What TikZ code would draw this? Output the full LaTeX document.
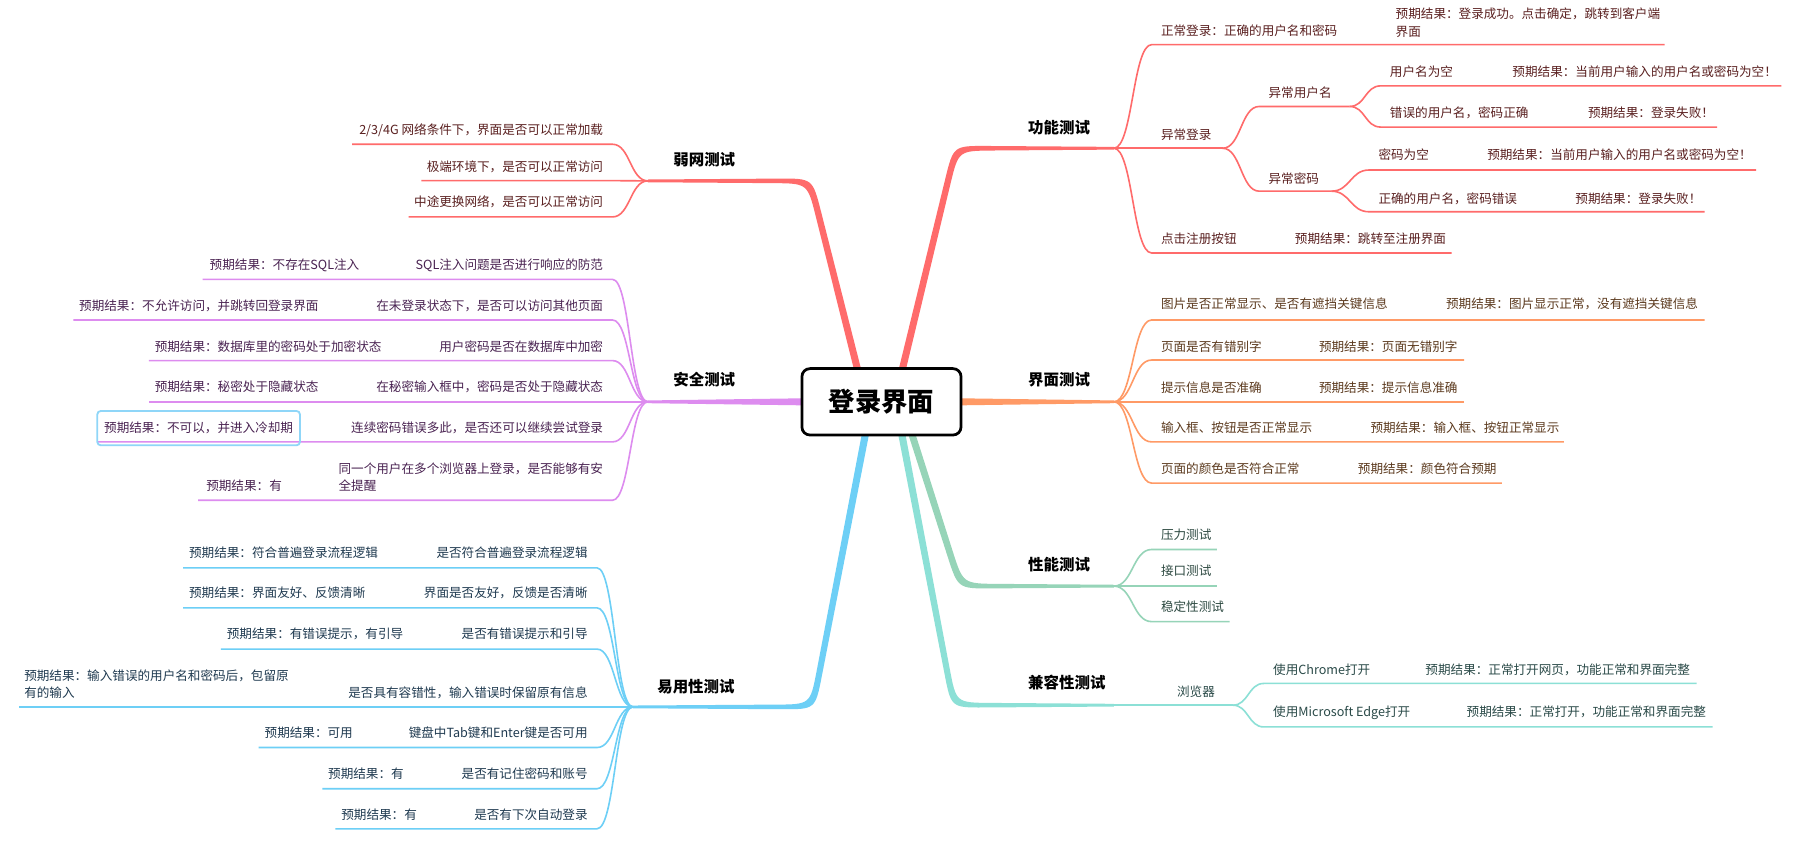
\documentclass[tikz,border=0pt]{standalone}
\usepackage{fontspec}
\setmainfont{Noto Sans CJK SC}
\usetikzlibrary{calc}
\definecolor{fn}{HTML}{FF6B6B}\definecolor{fntxt}{HTML}{5A2020}
\definecolor{ui}{HTML}{FF9A66}\definecolor{uitxt}{HTML}{5C3A1E}
\definecolor{pf}{HTML}{96D4B8}\definecolor{pftxt}{HTML}{2E4A42}
\definecolor{cp}{HTML}{8CE0D6}\definecolor{cptxt}{HTML}{2A4A48}
\definecolor{sc}{HTML}{DD8CEF}\definecolor{sctxt}{HTML}{4A2352}
\definecolor{us}{HTML}{6DCFF6}\definecolor{ustxt}{HTML}{1F3A50}
\definecolor{hl}{HTML}{8FD6F8}
\tikzset{
 kid/.style={inner sep=0pt, font=\fontsize{11}{15}\selectfont, text height=9.4pt, text depth=1.6pt},
 kidml/.style={inner sep=0pt, font=\fontsize{11}{15}\selectfont, align=left},
 sub/.style={line width=1.4pt},
 mainlabel/.style={inner sep=0pt, anchor=west, text=black, font=\fontsize{13.5}{16}\selectfont\bfseries, text height=11.5pt, text depth=2pt},
}
% tapered main branch: #1 color, #2 root pt, #3 corner, #4 end, #5 side sign, #6 prefix
\newcommand{\mbranch}[6]{%
  \pgfmathsetmacro\myKp{2.2*(#5)}\pgfmathsetmacro\myKn{-2.2*(#5)}%
  \pgfmathsetmacro\myEp{1.2*(#5)}\pgfmathsetmacro\myEn{-1.2*(#5)}%
  \coordinate (#6aR) at ($(#2)+(3.2,0)$);
  \coordinate (#6aK) at ($(#3)+(2.2,\myKp)$);
  \coordinate (#6aE) at ($(#4)+(0,\myEp)$);
  \coordinate (#6bR) at ($(#2)+(-3.2,0)$);
  \coordinate (#6bK) at ($(#3)+(-2.2,\myKn)$);
  \coordinate (#6bE) at ($(#4)+(0,\myEn)$);
  \fill[#1] (#6aR) -- ($(#6aK)!30pt!(#6aR)$) .. controls (#6aK) .. ($(#6aK)!30pt!(#6aE)$) -- (#6aE)
     -- (#6bE) -- ($(#6bK)!30pt!(#6bE)$) .. controls (#6bK) .. ($(#6bK)!30pt!(#6bR)$) -- (#6bR) -- cycle;
}
% right child: #1 fork, #2 name, #3 text x, #4 text y, #5 line y, #6 line end, #7 colour, #8 text
\newcommand{\Rkid}[8]{%
  \node[kid, text=#7txt, anchor=west] (#2) at (#3,#4) {#8};
  \coordinate (#2s) at ({#3-8},#5);
  \coordinate (#2e) at (#6,#5);
  \coordinate (#2m) at ($(#1)!0.5!(#2s)$);
  \draw[sub, draw=#7] (#1) .. controls (#2m |- #1) and (#2m |- #2s) .. (#2s) -- (#2e);
}
\newcommand{\Lkid}[8]{%
  \node[kid, text=#7txt, anchor=east] (#2) at (#3,#4) {#8};
  \coordinate (#2s) at ({#3+8},#5);
  \coordinate (#2e) at (#6,#5);
  \coordinate (#2m) at ($(#1)!0.5!(#2s)$);
  \draw[sub, draw=#7] (#1) .. controls (#2m |- #1) and (#2m |- #2s) .. (#2s) -- (#2e);
}
\newcommand{\Res}[5]{\node[kid, text=#4txt, anchor=west] (#1) at (#2,#3) {#5};}
\begin{document}
\begin{tikzpicture}[x=1pt,y=-1pt]
\useasboundingbox (0,0) rectangle (1568,736);
\fill[white] (0,0) rectangle (1568,736);
% ---------- main branch points
\coordinate (F1) at (973,129.5);
\coordinate (G) at (973,351);
\coordinate (P) at (973,512);
\coordinate (Q) at (973,616);
\coordinate (W) at (566,158);
\coordinate (S) at (566,351);
\coordinate (U) at (553,617.5);
\coordinate (rF) at (784,340);   \coordinate (kF) at (835,129.5);
\coordinate (rW) at (752.6,336.6); \coordinate (kW) at (707.6,158);
\coordinate (rP) at (792,365);   \coordinate (kP) at (839,512);
\coordinate (rQ) at (785,365);   \coordinate (kQ) at (833,616);
\coordinate (rU) at (758.6,365.6); \coordinate (kU) at (710,617.5);
\coordinate (rG) at (830,351);
\coordinate (rS) at (710,351);
\mbranch{fn}{rF}{kF}{F1}{1}{bF}
\mbranch{fn}{rW}{kW}{W}{-1}{bW}
\mbranch{pf}{rP}{kP}{P}{-1}{bP}
\mbranch{cp}{rQ}{kQ}{Q}{-1}{bQ}
\mbranch{us}{rU}{kU}{U}{1}{bU}
\fill[ui] ($(rG)+(0,-3.2)$) -- ($(G)+(0,-1.2)$) -- ($(G)+(0,1.2)$) -- ($(rG)+(0,3.2)$) -- cycle;
\fill[sc] ($(rS)+(0,-3.2)$) -- ($(S)+(0,-1.2)$) -- ($(S)+(0,1.2)$) -- ($(rS)+(0,3.2)$) -- cycle;
% ---------- labels of main branches
\node[mainlabel] (lF) at (898,112) {功能测试};
\node[mainlabel] (lG) at (898,332) {界面测试};
\node[mainlabel] (lP) at (898,493.5) {性能测试};
\node[mainlabel] (lQ) at (898,597) {兼容性测试};
\node[mainlabel] (lW) at (588,140) {弱网测试};
\node[mainlabel] (lS) at (588,332) {安全测试};
\node[mainlabel] (lU) at (574,600) {易用性测试};
% ---------- 功能测试
\Rkid{F1}{a1}{1014}{27}{39}{1454}{fn}{正常登录：正确的用户名和密码}
\node[kidml, text=fntxt, anchor=north west] (a1r) at (1219,7) {预期结果：登录成功。点击确定，跳转到客户端\\界面};
\Rkid{F1}{a2}{1014}{118}{129.5}{1068}{fn}{异常登录}
\Rkid{a2e}{a21}{1108}{81}{93}{1179}{fn}{异常用户名}
\Rkid{a21e}{a211}{1214}{63}{75}{1556}{fn}{用户名为空}
\Res{a211r}{1321}{63}{fn}{预期结果：当前用户输入的用户名或密码为空！}
\Rkid{a21e}{a212}{1214}{99}{111}{1500}{fn}{错误的用户名，密码正确}
\Res{a212r}{1387}{99}{fn}{预期结果：登录失败！}
\Rkid{a2e}{a22}{1108}{156}{167}{1163}{fn}{异常密码}
\Rkid{a22e}{a221}{1204}{135}{148.5}{1534}{fn}{密码为空}
\Res{a221r}{1299}{135}{fn}{预期结果：当前用户输入的用户名或密码为空！}
\Rkid{a22e}{a222}{1204}{174}{185}{1489}{fn}{正确的用户名，密码错误}
\Res{a222r}{1376}{174}{fn}{预期结果：登录失败！}
\Rkid{F1}{a3}{1014}{209}{221}{1268}{fn}{点击注册按钮}
\Res{a3r}{1131}{209}{fn}{预期结果：跳转至注册界面}
% ---------- 界面测试
\Rkid{G}{b1}{1014}{266}{279.5}{1489}{ui}{图片是否正常显示、是否有遮挡关键信息}
\Res{b1r}{1263}{266}{ui}{预期结果：图片显示正常，没有遮挡关键信息}
\Rkid{G}{b2}{1014}{303}{314.5}{1279}{ui}{页面是否有错别字}
\Res{b2r}{1152}{303}{ui}{预期结果：页面无错别字}
\Rkid{G}{b3}{1014}{339}{351}{1279}{ui}{提示信息是否准确}
\Res{b3r}{1152}{339}{ui}{预期结果：提示信息准确}
\Rkid{G}{b4}{1014}{374}{386}{1366}{ui}{输入框、按钮是否正常显示}
\Res{b4r}{1197}{374}{ui}{预期结果：输入框、按钮正常显示}
\Rkid{G}{b5}{1014}{410}{422}{1312}{ui}{页面的颜色是否符合正常}
\Res{b5r}{1186}{410}{ui}{预期结果：颜色符合预期}
% ---------- 性能测试
\Rkid{P}{c1}{1014}{467}{480}{1063}{pf}{压力测试}
\Rkid{P}{c2}{1014}{499}{512}{1063}{pf}{接口测试}
\Rkid{P}{c3}{1014}{530}{543}{1074}{pf}{稳定性测试}
% ---------- 兼容性测试
\Rkid{Q}{d1}{1028}{604.5}{616}{1077}{cp}{浏览器}
\Rkid{d1e}{d11}{1112}{585}{597}{1482}{cp}{使用Chrome打开}
\Res{d11r}{1245}{585}{cp}{预期结果：正常打开网页，功能正常和界面完整}
\Rkid{d1e}{d12}{1112}{622}{635}{1496}{cp}{使用Microsoft Edge打开}
\Res{d12r}{1281}{622}{cp}{预期结果：正常打开，功能正常和界面完整}
% ---------- 弱网测试
\Lkid{W}{e1}{527}{114}{126}{307.5}{fn}{2/3/4G 网络条件下，界面是否可以正常加载}
\Lkid{W}{e2}{527}{146}{157.8}{368}{fn}{极端环境下，是否可以正常访问}
\Lkid{W}{e3}{527}{176.6}{189.5}{357}{fn}{中途更换网络，是否可以正常访问}
% ---------- 安全测试
\Lkid{S}{h1}{527}{231.5}{244}{177}{sc}{SQL注入问题是否进行响应的防范}
\Res{h1r}{183}{231.5}{sc}{预期结果：不存在SQL注入}
\Lkid{S}{h2}{527}{267}{279.5}{64}{sc}{在未登录状态下，是否可以访问其他页面}
\Res{h2r}{69}{267}{sc}{预期结果：不允许访问，并跳转回登录界面}
\Lkid{S}{h3}{527}{303}{315}{130}{sc}{用户密码是否在数据库中加密}
\Res{h3r}{135}{303}{sc}{预期结果：数据库里的密码处于加密状态}
\Lkid{S}{h4}{527}{338}{351}{130}{sc}{在秘密输入框中，密码是否处于隐藏状态}
\Res{h4r}{135}{338}{sc}{预期结果：秘密处于隐藏状态}
\Lkid{S}{h5}{527}{374}{386}{85.5}{sc}{连续密码错误多此，是否还可以继续尝试登录}
\node[kid, text=sctxt, draw=hl, line width=1.6pt, rounded corners=3pt, minimum width=177pt, minimum height=30pt] (h5r) at (173.5,374) {预期结果：不可以，并进入冷却期};
\node[kidml, text=sctxt, anchor=north east] (h6) at (527,404) {同一个用户在多个浏览器上登录，是否能够有安\\全提醒};
\coordinate (h6s) at (535,437);
\coordinate (h6e) at (173,437);
\coordinate (h6m) at ($(S)!0.5!(h6s)$);
\draw[sub, draw=sc] (S) .. controls (h6m |- S) and (h6m |- h6s) .. (h6s) -- (h6e);
\Res{h6r}{180}{425}{sc}{预期结果：有}
% ---------- 易用性测试
\Lkid{U}{k1}{513.5}{483}{496}{160}{us}{是否符合普遍登录流程逻辑}
\Res{k1r}{165}{483}{us}{预期结果：符合普遍登录流程逻辑}
\Lkid{U}{k2}{513.5}{518}{531}{160}{us}{界面是否友好，反馈是否清晰}
\Res{k2r}{165}{518}{us}{预期结果：界面友好、反馈清晰}
\Lkid{U}{k3}{513.5}{554}{567}{193}{us}{是否有错误提示和引导}
\Res{k3r}{198}{554}{us}{预期结果：有错误提示，有引导}
\Lkid{U}{k4}{513.5}{605}{617.5}{16.5}{us}{是否具有容错性，输入错误时保留原有信息}
\node[kidml, text=ustxt, anchor=north west] (k4r) at (21,585) {预期结果：输入错误的用户名和密码后，包留原\\有的输入};
\Lkid{U}{k5}{513.5}{640}{653}{226}{us}{键盘中Tab键和Enter键是否可用}
\Res{k5r}{231}{640}{us}{预期结果：可用}
\Lkid{U}{k6}{513.5}{676}{689}{281.5}{us}{是否有记住密码和账号}
\Res{k6r}{286.5}{676}{us}{预期结果：有}
\Lkid{U}{k7}{513.5}{712}{724}{293}{us}{是否有下次自动登录}
\Res{k7r}{298}{712}{us}{预期结果：有}
% ---------- root
\node[draw=black, line width=2.4pt, rounded corners=7pt, fill=white, minimum width=139pt, minimum height=58pt, inner sep=0pt, font=\fontsize{23}{28}\selectfont\bfseries] (root) at (770,351) {登录界面};
\end{tikzpicture}
\end{document}
